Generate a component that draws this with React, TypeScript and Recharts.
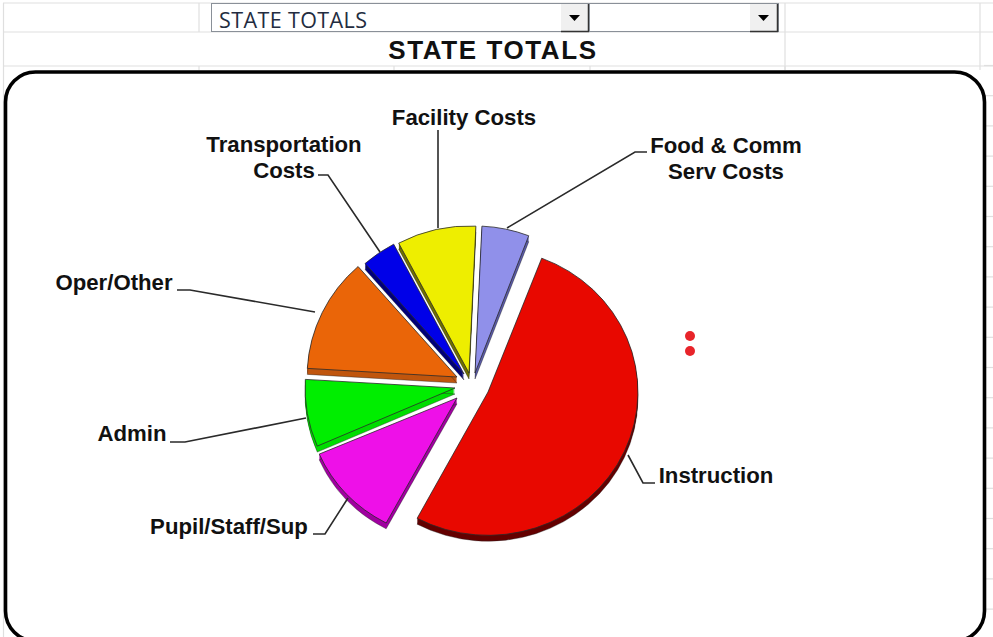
import React from "react";
import { PieChart, Pie, Cell, Sector } from "recharts";

// ---- data ----
const categories = ["Instruction", "Pupil/Staff/Sup", "Admin", "Oper/Other", "Transportation Costs", "Facility Costs", "Food & Comm Serv Costs"];
const shares = [52, 10.7, 7.4, 12.6, 3.7, 8.5, 5.1];
const labelLines = [["Instruction"], ["Pupil/Staff/Sup"], ["Admin"], ["Oper/Other"], ["Transportation", "Costs"], ["Facility Costs"], ["Food & Comm", "Serv Costs"]];
const chartData = categories.map((name, i) => ({ name, value: shares[i], lines: labelLines[i] }));

// ---- styles ----
const fills = ["#e80800", "#ee10e8", "#00ee00", "#ea6508", "#0000e8", "#eeee00", "#9090ea"];
const sides = ["#640000", "#a000a0", "#00dd00", "#c0560e", "#000078", "#707000", "#5c5ca8"];
// how far each slice is pulled out of the pie, and the perspective squash
const pull = [[20, 7], [-11, 13], [-13, 3], [-11, -8], [-4, -11], [1, -12], [7, -12]];
const squashY = [0.975, 0.965, 1, 1, 1, 1, 1];
const SQUASH_X = 1.02;
const CX = 468;
const CY = 385;
const DEPTH = 6;
// leader lines and label text, relative to the pie centre
const leaders = [
  { pts: [[160, 70], [175, 98], [187, 98]], tx: 248, ty: 98 },
  { pts: [[-120, 113], [-143, 149], [-155, 149]], tx: -239, ty: 149 },
  { pts: [[-162, 33], [-283, 57], [-298, 57]], tx: -336, ty: 56 },
  { pts: [[-153, -73], [-278, -95], [-291, -95]], tx: -354, ty: -95 },
  { pts: [[-88, -133], [-140, -210], [-150, -210]], tx: -184, ty: -233 },
  { pts: [[-30, -157], [-30, -255]], tx: -4, ty: -260 },
  { pts: [[39, -157], [167, -233], [179, -233]], tx: 258, ty: -232 },
];
const gridRows = Array.from({ length: 19 }, (_, i) => 65.5 + i * 30.2);
const FONT = "'Liberation Sans', Arial, sans-serif";

const ExplodedSlice = (props: any) => {
  const { cx, cy, innerRadius, outerRadius, startAngle, endAngle, index } = props;
  const [dx, dy] = pull[index];
  const x = cx + dx;
  const y = cy + dy;
  const base = { cx: x, innerRadius, outerRadius, startAngle, endAngle };
  const layers = [];
  for (let k = DEPTH; k >= 1; k--) {
    layers.push(<Sector key={k} {...base} cy={y + k} fill={sides[index]} stroke="none" />);
  }
  const t = `translate(${x} ${y}) scale(${SQUASH_X} ${squashY[index]}) translate(${-x} ${-y})`;
  return (
    <g transform={t}>
      {layers}
      <Sector {...base} cy={y + DEPTH} fill="none" stroke="#222" strokeWidth={0.4} />
      <Sector {...base} cy={y} fill={fills[index]} stroke="#2a2a2a" strokeWidth={0.8} />
    </g>
  );
};

const SliceLabel = (props: any) => {
  const { cx, cy, index } = props;
  const item = leaders[index];
  const lines = chartData[index].lines;
  return (
    <g>
      <polyline
        points={item.pts.map(([a, b]) => `${cx + a},${cy + b}`).join(" ")}
        fill="none"
        stroke="#2a2a2a"
        strokeWidth={1.6}
      />
      {lines.map((t, i) => (
        <text
          key={t}
          x={cx + item.tx}
          y={cy + item.ty + i * 25.5}
          textAnchor="middle"
          fontFamily={FONT}
          fontWeight="bold"
          fontSize={22.2}
          fill="#111"
        >
          {t}
        </text>
      ))}
    </g>
  );
};

const Dropdown = ({ x, w, text }: { x: number; w: number; text?: string }) => (
  <g>
    <rect x={x + 0.5} y={3.5} width={w} height={28} fill="#fff" stroke="#8a9098" />
    {text && (
      <text x={x + 8} y={28} fontFamily="'Open Sans', sans-serif" fontSize={21.5} letterSpacing={0.4} fill="#232c40">
        {text}
      </text>
    )}
    <rect x={x + w - 28} y={4} width={27} height={27} fill="#f0f0f0" />
    <path d={`M${x + w - 0.5} 4V31.5H${x + w - 28}`} fill="none" stroke="#333" strokeWidth={1.5} />
    <path d={`M${x + w - 20} 15h11l-5.5 6z`} fill="#000" />
  </g>
);

export default function App() {
  return (
    <div style={{ position: "absolute", left: 0, top: 0, width: 993, height: 637, overflow: "hidden", background: "#fff" }}>
      <svg width={993} height={637} style={{ position: "absolute", left: 0, top: 0 }}>
        <g stroke="#dfdfdf" strokeWidth={1.2}>
          <line x1={3} y1={3} x2={993} y2={3} />
          <line x1={3} y1={32} x2={993} y2={32} />
          <line x1={3} y1={66} x2={993} y2={66} />
          <line x1={3.5} y1={3} x2={3.5} y2={637} />
          {[199, 590, 785, 980].map((x) => (
            <line key={x} x1={x} y1={3} x2={x} y2={x === 199 || x === 590 ? 32 : 70} />
          ))}
          {[199, 394, 590, 785].map((x) => (
            <line key={`b${x}`} x1={x} y1={66} x2={x} y2={70} />
          ))}
          {gridRows.map((y) => (
            <line key={y} x1={984} y1={y} x2={993} y2={y} />
          ))}
        </g>
        <Dropdown x={211} w={378} text="STATE TOTALS" />
        <Dropdown x={589} w={189} />
        <text x={493} y={59} textAnchor="middle" fontFamily={FONT} fontWeight="bold" fontSize={26} letterSpacing={1.6} fill="#111">
          STATE TOTALS
        </text>
        <rect x={5.5} y={72} width={979} height={569} rx={30} ry={30} fill="#fff" stroke="#000" strokeWidth={3.6} />
      </svg>
      <div style={{ position: "absolute", left: 0, top: 0 }}>
        <PieChart width={993} height={637} margin={{ top: 0, right: 0, bottom: 0, left: 0 }}>
          <Pie
            data={chartData}
            dataKey="value"
            nameKey="name"
            cx={CX}
            cy={CY}
            innerRadius={0}
            outerRadius={147}
            startAngle={69}
            endAngle={-291}
            paddingAngle={0}
            stroke="none"
            isAnimationActive={false}
            shape={ExplodedSlice}
            label={SliceLabel}
            labelLine={false}
          >
            {chartData.map((d, i) => (
              <Cell key={d.name} fill={fills[i]} />
            ))}
          </Pie>
        </PieChart>
      </div>
      <svg width={993} height={637} style={{ position: "absolute", left: 0, top: 0, pointerEvents: "none" }}>
        <circle cx={690} cy={336} r={5} fill="#e8242a" />
        <circle cx={690} cy={351} r={5} fill="#e8242a" />
      </svg>
    </div>
  );
}
